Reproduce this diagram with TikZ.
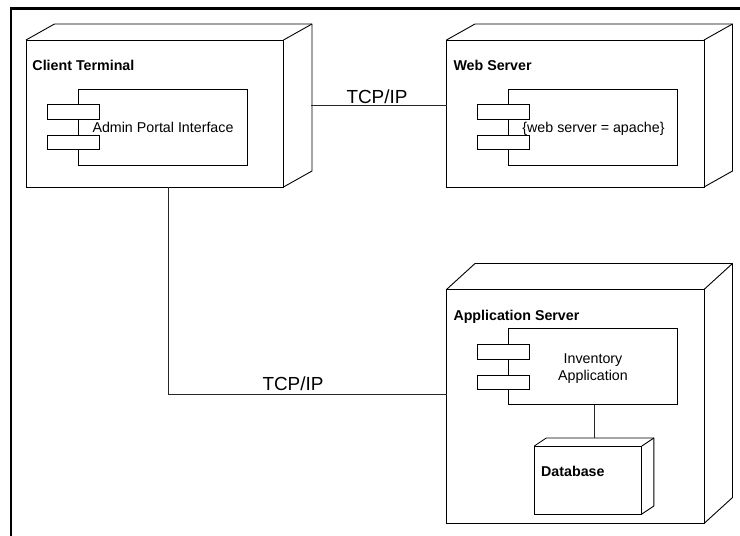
\documentclass[tikz,border=0pt]{standalone}
\usepackage{fontspec}
\setmainfont{Liberation Sans}
\usetikzlibrary{calc,positioning}
\tikzset{
    boxface/.style={draw, fill=white, rectangle, inner sep=0, outer sep=0, line width=0.9bp},
    deployface/.style={boxface, anchor=north west},
    portbox/.style={boxface, minimum width=51.5bp, minimum height=14.5bp},
    boldlabel/.style={font=\fontsize{14.3}{16.7}\selectfont\bfseries, anchor=base west, inner sep=0},
    plainlabel/.style={font=\fontsize{14.3}{16.7}\selectfont, anchor=base, inner sep=0, align=center},
    linklabel/.style={font=\fontsize{19}{22}\selectfont, anchor=base, inner sep=0},
    link/.style={draw=black!85, line width=0.9bp}
}
% depth lines behind a front face
\newcommand{\depthlines}[3]{
    \draw[line width=0.9bp, line join=round] (#1.north west) -- ++(#2,#3) -- ($(#1.north east)+(#2,#3)$) -- ($(#1.south east)+(#2,#3)$) -- (#1.south east);
    \draw[line width=0.9bp] (#1.north east) -- ++(#2,#3);
}
\begin{document}
\begin{tikzpicture}[x=1bp, y=-1bp]
    \useasboundingbox (0,0) rectangle (740,536);
    % outer frame
    \coordinate (frameBottom) at (10.7,536);
    \coordinate (frameCorner) at (10.7,8.4);
    \coordinate (frameRight) at (740,8.4);
    \draw[line width=2.4bp] (frameBottom) -- (frameCorner) -- (frameRight);

    % client terminal
    \node[deployface, minimum width=257.5bp, minimum height=147bp] (client) at (26,40) {};
    \depthlines{client}{28.5}{-16}
    \node[boldlabel] (clientName) at (32.3,70.8) {Client Terminal};
    \node[deployface, minimum width=169bp, minimum height=76bp] (adminPortal) at (78.5,89) {};
    \node[portbox] (adminPortA) at (73.2,112) {};
    \node[portbox] (adminPortB) at (73.2,142.5) {};
    \node[plainlabel] (adminName) at (163,132.7) {Admin Portal Interface};

    % web server
    \node[deployface, minimum width=257.5bp, minimum height=147bp] (web) at (446.5,40) {};
    \depthlines{web}{28.5}{-16}
    \node[boldlabel] (webName) at (453.3,70.8) {Web Server};
    \node[deployface, minimum width=169bp, minimum height=76bp] (webProc) at (508.7,89) {};
    \node[portbox] (webPortA) at (503.5,112) {};
    \node[portbox] (webPortB) at (503.5,142.5) {};
    \node[plainlabel] (webText) at (593.5,132.7) {\{web server = apache\}};

    % application server
    \node[deployface, minimum width=257.5bp, minimum height=234bp] (app) at (446.5,289.5) {};
    \depthlines{app}{28.5}{-26}
    \node[boldlabel] (appName) at (453.3,320) {Application Server};
    \node[deployface, minimum width=169bp, minimum height=76bp] (inventory) at (508.7,328.8) {};
    \node[portbox] (invPortA) at (503.5,352) {};
    \node[portbox] (invPortB) at (503.5,382.3) {};
    \node[plainlabel] (invText) at (593,380.2) {Inventory\\Application};

    % database
    \node[deployface, minimum width=107.5bp, minimum height=68bp] (database) at (534.3,446) {};
    \depthlines{database}{12}{-8}
    \node[boldlabel] (dbName) at (541,476) {Database};

    % links
    \coordinate (clientPort) at (311,105.5);
    \coordinate (webPort) at (446.5,105.5);
    \coordinate (clientFoot) at (168,187);
    \coordinate (appPort) at (446.5,394);
    \coordinate (dbTop) at (594,438);
    \draw[link] (clientPort) -- (webPort);
    \draw[link] (clientFoot) |- (appPort);
    \draw[link] (inventory.south -| dbTop) -- (dbTop);
    \node[linklabel] (linkTop) at (377,104) {TCP/IP};
    \node[linklabel] (linkBottom) at (293,390.7) {TCP/IP};
\end{tikzpicture}
\end{document}
